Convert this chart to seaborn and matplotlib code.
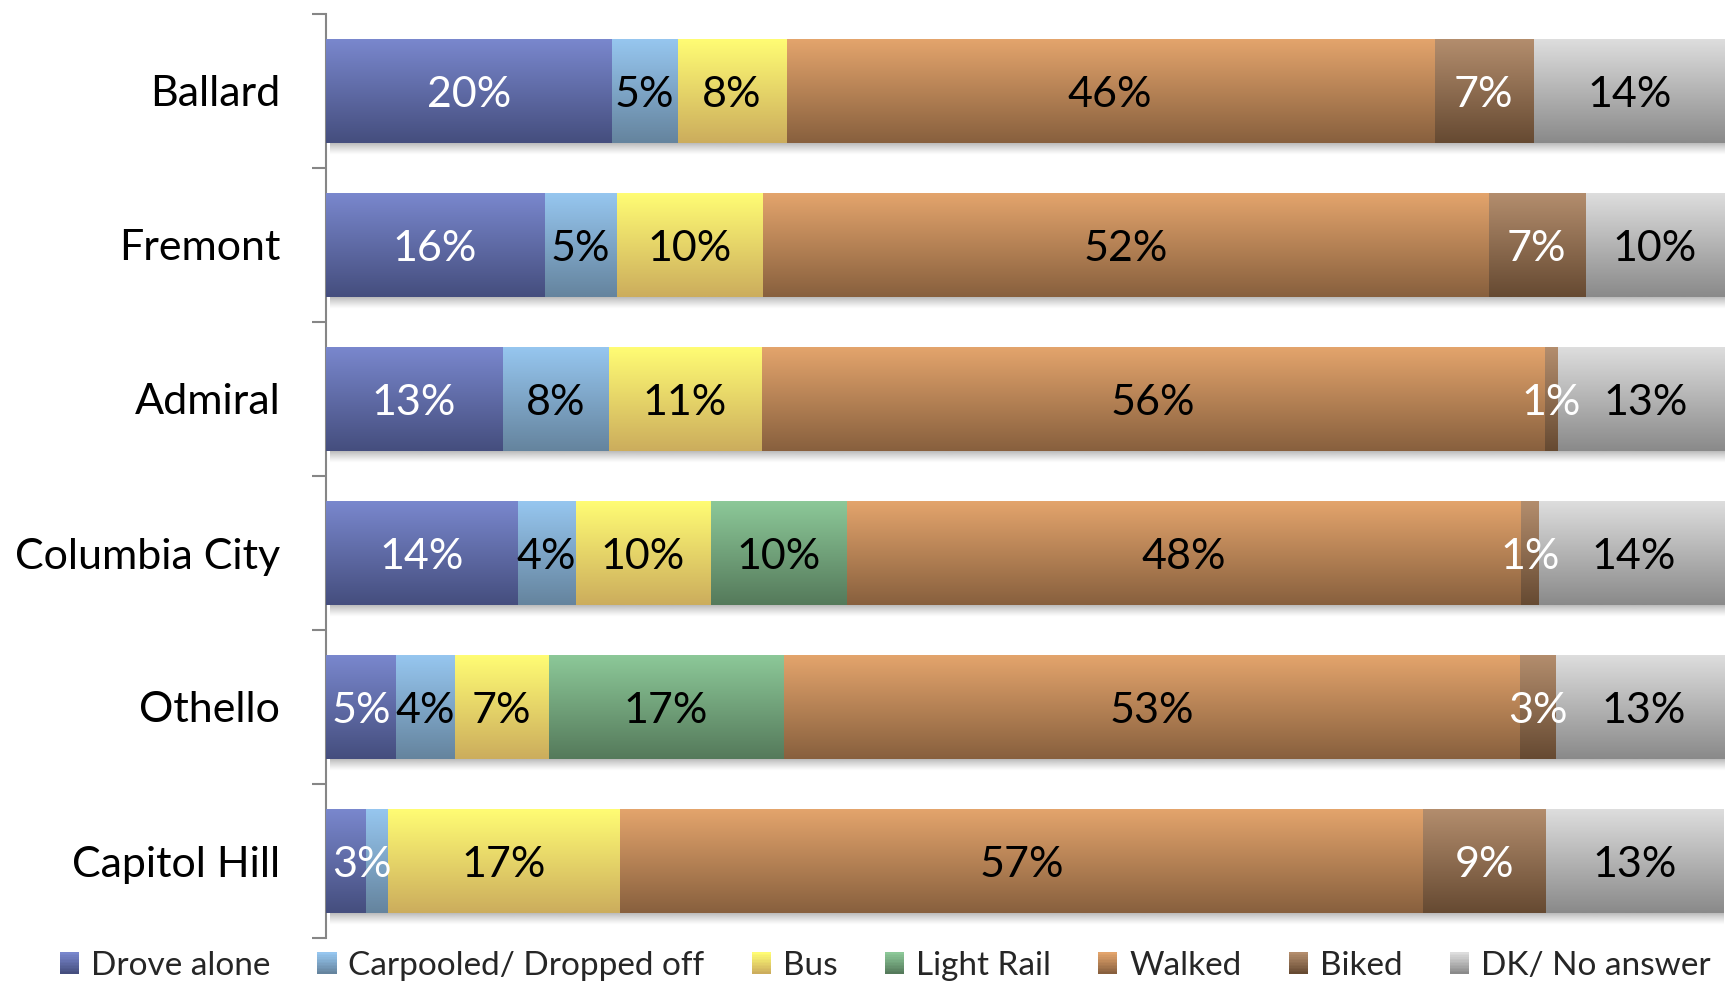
import numpy as np
import pandas as pd
import matplotlib
matplotlib.use("Agg")
import matplotlib.pyplot as plt
import seaborn as sns
from matplotlib.colors import to_rgb
from matplotlib.patches import Rectangle
from matplotlib.legend_handler import HandlerBase

# ---------------- data ----------------
locations = ["Ballard", "Fremont", "Admiral", "Columbia City", "Othello", "Capitol Hill"]
modes = ["Drove alone", "Carpooled/ Dropped off", "Bus", "Light Rail", "Walked", "Biked", "DK/ No answer"]
drove_alone = [20.4, 15.6, 12.6, 13.7, 5.0, 2.8]
carpooled   = [4.7, 5.2, 7.6, 4.1, 4.2, 1.6]
bus         = [7.8, 10.4, 10.9, 9.7, 6.7, 16.6]
light_rail  = [0.0, 0.0, 0.0, 9.7, 16.8, 0.0]
walked      = [46.3, 51.9, 56.0, 48.2, 52.6, 57.4]
biked       = [7.1, 6.9, 0.9, 1.3, 2.6, 8.8]
dk_no_ans   = [13.7, 10.0, 12.6, 13.6, 12.6, 12.7]
hidden_labels = [("Capitol Hill", "Carpooled/ Dropped off")]

series = [drove_alone, carpooled, bus, light_rail, walked, biked, dk_no_ans]

# gradient colours (top, bottom) and label colours
grad = {
    "Drove alone": ("#7987CD", "#454E7E"),
    "Carpooled/ Dropped off": ("#96C6EF", "#65849E"),
    "Bus": ("#FFFC74", "#CCAD5D"),
    "Light Rail": ("#8CC898", "#557A5B"),
    "Walked": ("#E3A46C", "#88603E"),
    "Biked": ("#B38D6D", "#664A32"),
    "DK/ No answer": ("#DDDDDD", "#8A8A8A"),
}
label_color = {
    "Drove alone": "white", "Carpooled/ Dropped off": "black", "Bus": "black",
    "Light Rail": "black", "Walked": "black", "Biked": "white", "DK/ No answer": "black",
}

sns.set_style("white")
plt.rcParams["font.family"] = ["Lato", "DejaVu Sans"]

W, H = 1725, 983
fig = plt.figure(figsize=(W / 100, H / 100), dpi=100)
ax = fig.add_axes([326 / W, 1 - 938 / H, (W - 326) / W, (938 - 14) / H])

df = pd.DataFrame({"location": locations})
for m, vals in zip(modes, series):
    df[m] = vals
cum = df[modes].cumsum(axis=1)


def gradient_image(top, bottom, n=64):
    t = np.linspace(0, 1, n)[:, None]
    c0, c1 = np.array(to_rgb(top)), np.array(to_rgb(bottom))
    return (c0[None, :] * (1 - t) + c1[None, :] * t)[:, None, :]


bar_h = 0.67
z = 2
# draw cumulative bars from the longest to the shortest so they stack visually
for m in reversed(modes):
    n_before = len(ax.patches)
    sns.barplot(x=cum[m], y=df["location"], order=locations, orient="h",
                color=grad[m][0], saturation=1, width=bar_h, errorbar=None, ax=ax)
    new = ax.patches[n_before:]
    img = gradient_image(*grad[m])
    for p in new:
        p.set_zorder(z)
        p.set_edgecolor("none")
        x0, y0, w, h = p.get_x(), p.get_y(), p.get_width(), p.get_height()
        im = ax.imshow(img, extent=(x0, x0 + w, y0 + h, y0), aspect="auto",
                       zorder=z + 0.5, interpolation="bilinear")
        im.set_clip_path(p)
    z += 1

# soft shadows under each bar
shadow = np.zeros((32, 1, 4))
shadow[..., :3] = 0.4
shadow[:, 0, 3] = np.linspace(0.55, 0.0, 32) ** 1.2
for i, loc in enumerate(locations):
    total = cum.loc[i, modes[-1]]
    ax.imshow(shadow, extent=(0.3, total, i + bar_h / 2 + 0.08, i + bar_h / 2),
              aspect="auto", zorder=1, interpolation="bilinear")

ax.set_xlim(0, 100)
ax.set_ylim(len(locations) - 0.5, -0.5)

# spines & ticks
for s in ["top", "right", "bottom"]:
    ax.spines[s].set_visible(False)
ax.spines["left"].set_color("#868686")
ax.spines["left"].set_linewidth(1.5)
ax.set_xticks([])
ax.set_xlabel("")
ax.set_ylabel("")
ax.set_yticks(range(len(locations)))
ax.set_yticklabels(locations, fontsize=31, color="black")
ax.tick_params(axis="y", which="major", left=True, length=0, pad=33)
ax.set_yticks(np.arange(-0.5, len(locations), 1.0), minor=True)
ax.tick_params(axis="y", which="minor", left=True, length=10, width=1.5,
               color="#868686", direction="out")

# data labels
texts = []
for i, loc in enumerate(locations):
    left = 0.0
    for m in modes:
        v = df.loc[i, m]
        if v > 0 and (loc, m) not in hidden_labels:
            t = ax.annotate(f"{v:.0f}%", (left + v / 2, i), xytext=(0, -3),
                            textcoords="offset points", ha="center", va="center",
                            fontsize=31, color=label_color[m], zorder=50)
            texts.append(t)
        left += v

fig.canvas.draw()
renderer = fig.canvas.get_renderer()
ax_x0 = ax.get_window_extent(renderer).x0
inv = ax.transData.inverted()
for t in texts:
    bb = t.get_window_extent(renderer)
    if bb.x0 < ax_x0 + 6:
        x_new = inv.transform((ax_x0 + 6, 0))[0]
        t.xy = (x_new, t.xy[1])
        t.set_ha("left")


# legend with gradient swatches
class GradHandler(HandlerBase):
    def __init__(self, top, bottom, n=14):
        super().__init__()
        self.c0, self.c1, self.n = np.array(to_rgb(top)), np.array(to_rgb(bottom)), n

    def create_artists(self, legend, orig_handle, xdescent, ydescent, width, height, fontsize, trans):
        arts = []
        side = height
        y_base = -ydescent
        for k in range(self.n):
            f = k / (self.n - 1)
            c = self.c0 * (1 - f) + self.c1 * f
            y = y_base + side * (1 - (k + 1) / self.n)
            r = Rectangle((-xdescent, y), width, side / self.n + 0.05, facecolor=c,
                          edgecolor="none", transform=trans)
            arts.append(r)
        return arts


handles = [Rectangle((0, 0), 1, 1) for _ in modes]
hmap = {h: GradHandler(*grad[m]) for h, m in zip(handles, modes)}
fig.legend(handles, modes, handler_map=hmap, loc="center", bbox_to_anchor=(0.513, 1 - 966 / H),
           ncol=len(modes), frameon=False, fontsize=24, handlelength=0.58, handleheight=0.62,
           handletextpad=0.35, columnspacing=1.42, borderpad=0, borderaxespad=0)

fig.savefig("out.png", dpi=100)
